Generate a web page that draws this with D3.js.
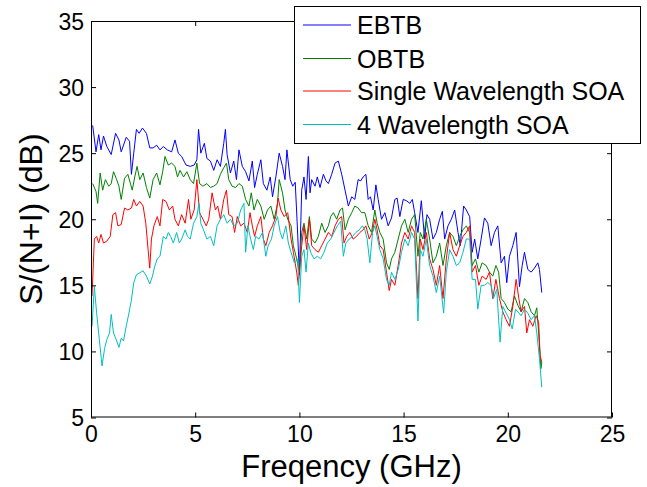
<!DOCTYPE html>
<html>
<head>
<meta charset="utf-8">
<script src="https://cdn.jsdelivr.net/npm/d3@7/dist/d3.min.js"></script>
<style>
  html, body { margin: 0; padding: 0; background: #fff; }
  svg { display: block; font-family: "Liberation Sans", Arial, sans-serif; }
</style>
</head>
<body>
<svg id="chart" width="647" height="487"></svg>
<script>
// ---- Data ----
const seriesNames = ["EBTB", "OBTB", "Single Wavelength SOA", "4 Wavelength SOA"];
const xTicks = [0, 5, 10, 15, 20, 25];
const yTicks = [5, 10, 15, 20, 25, 30, 35];

const ebtb = [
 [0.08,27.1],[0.24,25.1],[0.37,26.4],[0.48,25.25],[0.6,26.3],[0.76,25.5],[0.97,24.9],[1.18,26.5],[1.34,26],[1.45,25.1],
 [1.69,26.2],[1.85,25.9],[1.94,23.4],[2.05,25],[2.18,26.8],[2.31,26.5],[2.47,26.9],[2.66,26.5],[2.82,25.4],[2.98,25.4],
 [3.15,25.6],[3.31,25.25],[3.47,25.5],[3.66,25.25],[3.87,25.1],[4.03,26],[4.19,25],[4.35,24.75],[4.56,24.1],[4.76,24],
 [4.95,24.1],[5.08,24.5],[5.16,26.8],[5.27,25],[5.44,25.75],[5.56,24.6],[5.73,24.4],[5.89,23.7],[6.05,24.5],[6.21,24],
 [6.37,25.75],[6.45,26.8],[6.53,24.9],[6.69,23.5],[6.85,24.4],[6.98,23],[7.1,25.25],[7.26,24],[7.42,23.6],[7.58,22.9],
 [7.74,24.4],[7.85,22.4],[7.98,23.4],[8.15,24.5],[8.27,22.7],[8.44,22.2],[8.6,23.2],[8.71,21.7],[8.87,23.2],[9.03,25],
 [9.19,24],[9.31,23],[9.4,25.25],[9.56,23],[9.68,22.5],[9.8,22.8],[9.9,19.5],[10.0,15.8],[10.11,22.2],[10.22,23.2],
 [10.32,21.5],[10.43,24.75],[10.51,22],[10.59,23],[10.75,22.5],[10.86,23.2],[10.99,22.4],[11.15,23.4],[11.28,22.9],[11.39,22.7],
 [11.55,23.4],[11.71,24.25],[11.87,24.4],[12.03,23.4],[12.19,22.2],[12.35,21],[12.51,21.7],[12.66,21.5],[12.82,23],[12.94,22.9],
 [13.06,23.2],[13.19,23.4],[13.3,21.5],[13.41,21.7],[13.54,20.7],[13.67,22.6],[13.78,21.5],[13.94,20],[14.1,20.5],[14.26,19.5],
 [14.42,20.1],[14.58,21.5],[14.69,21.6],[14.82,20.2],[14.98,21.5],[15.14,21.4],[15.3,21.2],[15.42,21.5],[15.53,20.5],[15.69,19],
 [15.85,21.4],[16.01,18.5],[16.12,20.35],[16.25,20],[16.41,18.5],[16.57,19],[16.73,20],[16.86,20.6],[16.97,18.5],[17.13,19.5],
 [17.29,20],[17.45,20.7],[17.61,19],[17.72,18],[17.88,21],[18.01,20.7],[18.17,20.2],[18.29,17.5],[18.41,18.5],[18.56,17],
 [18.72,18.5],[18.88,20.1],[19.04,19.7],[19.2,18],[19.36,19],[19.52,19.5],[19.68,16.7],[19.84,17.2],[19.95,15.2],[20.08,17.2],
 [20.24,18],[20.4,19],[20.56,14.9],[20.69,16.5],[20.8,17.5],[20.96,16.2],[21.12,16],[21.28,16.3],[21.44,16.7],[21.52,16.2],[21.63,14.45]
];

const obtb = [
 [0.08,22.7],[0.24,22.1],[0.32,21.2],[0.44,23.5],[0.56,22.2],[0.69,23],[0.85,22.5],[0.97,22.7],[1.08,23.6],[1.21,23.1],
 [1.34,22.5],[1.45,21.5],[1.61,23.1],[1.77,23.4],[1.98,22.2],[2.1,23.2],[2.21,24],[2.34,23],[2.5,23.5],[2.66,22.4],
 [2.82,21.6],[2.98,23],[3.15,23.5],[3.31,22.6],[3.44,23.6],[3.55,24.75],[3.71,24.1],[3.87,24.25],[4.03,24],[4.15,23.2],
 [4.27,23.7],[4.44,23.2],[4.6,23.6],[4.76,23],[4.92,22.7],[5.08,24.25],[5.21,22.7],[5.37,22.5],[5.56,22.7],[5.73,22.4],
 [5.89,22.5],[6.05,22.7],[6.21,23.4],[6.37,23.9],[6.5,24.25],[6.61,23],[6.77,22.5],[6.94,22.4],[7.1,22.7],[7.26,22.5],
 [7.42,21.5],[7.58,21],[7.69,22],[7.82,20.7],[7.98,21.5],[8.15,21],[8.31,20],[8.47,20.7],[8.63,21],[8.79,20],
 [8.95,21.2],[9.03,23],[9.19,22],[9.31,20.7],[9.44,20],[9.6,19.5],[9.71,18],[9.87,17],[10.0,16],[10.11,19],
 [10.22,19.7],[10.35,18.5],[10.48,20.2],[10.59,18.5],[10.75,18.2],[10.91,18.7],[11.07,19.7],[11.23,19],[11.39,19.5],[11.5,20.2],
 [11.63,20.5],[11.79,20],[11.95,20.7],[12.07,20.85],[12.19,19.2],[12.35,20],[12.51,20.5],[12.66,21],[12.82,20.85],[12.98,20.5],
 [13.14,20.5],[13.3,19.5],[13.46,19],[13.62,20.7],[13.73,19.7],[13.86,19],[14.02,18.5],[14.18,16.7],[14.31,16.2],[14.42,17],
 [14.58,17.5],[14.74,18.5],[14.9,19.5],[15.06,20],[15.22,19],[15.38,20],[15.53,20.35],[15.69,17.2],[15.8,19],[15.93,18.5],
 [16.09,20],[16.25,18.5],[16.41,16.7],[16.57,17.2],[16.73,18.2],[16.89,16.5],[17.05,18],[17.21,19],[17.37,18.7],[17.53,18],
 [17.69,18.7],[17.85,19.2],[18.01,19.5],[18.17,19],[18.29,16.5],[18.45,17],[18.61,16],[18.77,16.7],[18.96,16.5],[19.12,16],
 [19.28,15.7],[19.43,16.5],[19.56,16],[19.68,14],[19.84,13.7],[20.0,13.2],[20.16,13],[20.32,14.2],[20.48,13.5],[20.64,13],
 [20.8,14],[20.96,13.7],[21.12,13],[21.28,12.7],[21.39,13.3],[21.48,11.4],[21.59,8.7],[21.63,9.2]
];

const singleSOA = [
 [0.05,14.2],[0.16,18.5],[0.27,18.7],[0.37,18.2],[0.48,18.85],[0.6,18.2],[0.76,18.35],[0.92,18.7],[1.05,20.35],[1.18,20.5],
 [1.29,19.5],[1.45,19.6],[1.61,20.85],[1.77,20.7],[1.94,20.85],[2.05,21.5],[2.18,21],[2.34,21.35],[2.5,21],[2.63,19.7],
 [2.74,17.7],[2.82,16.3],[2.9,18.5],[3.02,19.5],[3.18,20.2],[3.31,19.5],[3.44,21.5],[3.6,21.35],[3.76,20.7],[3.92,21],
 [4.03,20],[4.19,19.5],[4.35,20.35],[4.52,19.7],[4.68,21.5],[4.79,20],[4.95,20.7],[5.08,23],[5.21,20.5],[5.37,20],
 [5.53,19.5],[5.65,20],[5.81,22],[5.97,20.7],[6.08,21],[6.21,20],[6.37,21.5],[6.5,22.2],[6.61,20.35],[6.77,20.2],
 [6.89,19],[7.02,20.2],[7.18,19.5],[7.34,19.7],[7.5,19],[7.63,20.5],[7.74,19.5],[7.85,18.7],[7.98,19.5],[8.15,20.2],
 [8.27,18.5],[8.39,18],[8.55,19],[8.71,19.5],[8.87,20.2],[8.98,21.6],[9.11,20.7],[9.27,20.2],[9.44,20.5],[9.6,18.5],
 [9.71,17.5],[9.87,16],[9.95,15],[10.11,18],[10.22,19.5],[10.35,17.7],[10.48,20],[10.59,18],[10.75,17.7],[10.91,17.5],
 [11.07,18],[11.23,18.5],[11.39,19],[11.55,18.7],[11.71,19.5],[11.87,20],[12.03,20.2],[12.14,18.2],[12.27,18.7],[12.42,19],
 [12.58,18.5],[12.74,18.7],[12.9,19],[13.06,19.2],[13.19,19.5],[13.35,18.5],[13.5,19],[13.62,20],[13.73,19.2],[13.86,18],
 [14.02,17.7],[14.18,16],[14.31,14.6],[14.42,15.45],[14.58,15],[14.74,16.5],[14.9,18.2],[15.06,19],[15.22,18.5],[15.38,19.5],
 [15.53,19],[15.69,14],[15.8,18.5],[15.93,17.7],[16.09,19],[16.25,17],[16.41,16.2],[16.57,15],[16.73,16.5],[16.89,14],
 [17.05,17],[17.21,19],[17.37,17.7],[17.53,17.2],[17.69,18],[17.85,18.7],[18.01,19],[18.17,19.5],[18.29,16],[18.45,16.5],
 [18.61,15],[18.77,15.7],[18.96,15.45],[19.12,16],[19.28,14],[19.43,15.45],[19.6,14],[19.76,13],[19.92,12.4],[20.08,11.9],
 [20.24,13.4],[20.4,15.45],[20.53,14],[20.64,13],[20.8,13.4],[20.91,11.4],[21.04,12.4],[21.2,11.9],[21.36,12.7],[21.48,12.2],
 [21.55,9.7],[21.63,9.2]
];

const fourSOA = [
 [0.05,11.9],[0.16,14.9],[0.27,12.9],[0.4,10.9],[0.53,8.9],[0.65,10.2],[0.76,10.9],[0.89,11.4],[0.97,12.8],[1.08,11.4],
 [1.21,10.9],[1.34,10.3],[1.45,11],[1.56,10.8],[1.69,11.9],[1.82,12.9],[1.94,13.9],[2.05,15.2],[2.18,15.8],[2.34,15.95],
 [2.5,16.1],[2.66,15.7],[2.82,15.1],[2.95,15.7],[3.06,16.45],[3.18,17],[3.31,17.2],[3.47,18.7],[3.6,18.5],[3.71,19],
 [3.82,18.7],[3.95,18.2],[4.11,19],[4.24,18.2],[4.35,18.5],[4.52,19.2],[4.63,18.7],[4.76,18.5],[4.92,19.7],[5.08,20.2],
 [5.18,21.2],[5.27,19.7],[5.4,19.2],[5.56,18.5],[5.73,18.7],[5.89,18],[6.05,19.5],[6.21,20],[6.37,20.35],[6.53,19.7],
 [6.69,20],[6.85,19.5],[7.02,19.7],[7.18,20.7],[7.34,21.2],[7.42,17.5],[7.53,19.5],[7.66,18.5],[7.79,17.7],[7.9,18.7],
 [8.06,18.5],[8.23,19],[8.39,17.2],[8.5,18],[8.66,18.5],[8.79,19.5],[8.95,20.2],[9.08,19],[9.19,18.5],[9.35,19.5],
 [9.47,18.2],[9.6,17.5],[9.76,16.7],[9.92,17],[10.0,13.7],[10.11,17.2],[10.22,17.7],[10.32,16],[10.43,18.2],[10.54,17.5],
 [10.7,17],[10.86,17.2],[11.02,17],[11.18,17.5],[11.34,18.2],[11.5,18.5],[11.66,19],[11.82,19.5],[11.98,19.85],[12.11,17.2],
 [12.23,18.2],[12.39,18.5],[12.55,18.7],[12.71,19],[12.87,19.2],[13.03,19.5],[13.14,19.2],[13.25,18.5],[13.38,16.7],[13.51,19],
 [13.62,19.5],[13.73,18.7],[13.86,17.7],[14.02,17],[14.18,15.45],[14.31,15],[14.42,16],[14.58,15.45],[14.74,16.2],[14.9,17.5],
 [15.06,18.5],[15.22,18],[15.38,19],[15.53,18.5],[15.69,12.3],[15.8,17.7],[15.93,17.2],[16.09,18.5],[16.25,16.5],[16.41,15.7],
 [16.57,14.45],[16.73,15.7],[16.92,12.9],[17.05,16],[17.21,17.7],[17.37,17.2],[17.53,16.5],[17.69,16.7],[17.85,17.5],[18.01,18.5],
 [18.17,18.5],[18.29,15.45],[18.45,15.45],[18.56,13.2],[18.72,15],[18.88,15],[19.04,15.2],[19.2,15],[19.31,14],[19.47,14.7],
 [19.63,10.7],[19.76,13.4],[19.92,12.9],[20.08,12.4],[20.21,11.7],[20.37,13.2],[20.53,12.9],[20.64,12.7],[20.8,13.2],[20.96,12.9],
 [21.12,12.4],[21.28,12.7],[21.39,11.4],[21.52,9.45],[21.63,7.3]
];

const allSeries = [ebtb, obtb, singleSOA, fourSOA];
const colors = ["#0000ff", "#008000", "#ff0000", "#00bfbf"];

// ---- Layout ----
const L = 91, R = 612, T = 21, B = 417.5;
const svg = d3.select("#chart");
const x = d3.scaleLinear().domain([0, 25]).range([L, R]);
const y = d3.scaleLinear().domain([5, 35]).range([B, T]);

// plot background
svg.append("rect").attr("x", L).attr("y", T).attr("width", R - L).attr("height", B - T).attr("fill", "#fff");

// lines
const clipId = "plotclip";
svg.append("clipPath").attr("id", clipId).append("rect")
  .attr("x", L).attr("y", T).attr("width", R - L).attr("height", B - T);
const line = d3.line().x(d => x(d[0])).y(d => y(d[1]));
const gLines = svg.append("g").attr("clip-path", `url(#${clipId})`);
allSeries.forEach((s, i) => {
  gLines.append("path").datum(s)
    .attr("fill", "none").attr("stroke", colors[i]).attr("stroke-width", 1)
    .attr("stroke-linejoin", "round").attr("d", line);
});

// axes
const tickFont = 23;
const gx = svg.append("g").attr("transform", `translate(0,${B})`)
  .call(d3.axisBottom(x).tickValues(xTicks).tickSize(-5).tickPadding(8).tickFormat(d3.format("d")));
const gxTop = svg.append("g").attr("transform", `translate(0,${T})`)
  .call(d3.axisTop(x).tickValues(xTicks).tickSize(-5).tickFormat(""));
const gy = svg.append("g").attr("transform", `translate(${L},0)`)
  .call(d3.axisLeft(y).tickValues(yTicks).tickSize(-5).tickPadding(7).tickFormat(d3.format("d")));
const gyR = svg.append("g").attr("transform", `translate(${R},0)`)
  .call(d3.axisRight(y).tickValues(yTicks).tickSize(-5).tickFormat(""));
[gx, gxTop, gy, gyR].forEach(g => {
  g.select(".domain").remove();
  g.selectAll("line").attr("stroke", "#000");
  g.selectAll("text").attr("fill", "#000").style("font-size", tickFont + "px")
    .style("font-family", '"Liberation Sans", Arial, sans-serif');
});
gy.selectAll("text").attr("dy", "0.36em");

// frame
svg.append("rect").attr("x", L + 0.5).attr("y", T + 0.5)
  .attr("width", R - L - 1).attr("height", B - T - 1)
  .attr("fill", "none").attr("stroke", "#000").attr("stroke-width", 1);

// axis titles
svg.append("text").attr("x", (L + R) / 2).attr("y", 477)
  .attr("text-anchor", "middle").style("font-size", "31px").attr("fill", "#000")
  .text("Freqency (GHz)");
svg.append("text").attr("transform", `translate(42,${(T + B) / 2}) rotate(-90)`)
  .attr("text-anchor", "middle").style("font-size", "32px").attr("fill", "#000")
  .text("S/(N+I) (dB)");

// legend
const lg = svg.append("g");
lg.append("rect").attr("x", 294.5).attr("y", 6.5).attr("width", 346).attr("height", 137)
  .attr("fill", "#fff").attr("stroke", "#000").attr("stroke-width", 1);
const rowY = [25, 58.5, 91, 124.5];
seriesNames.forEach((name, i) => {
  lg.append("line").attr("x1", 303).attr("x2", 351).attr("y1", rowY[i]).attr("y2", rowY[i])
    .attr("stroke", colors[i]).attr("stroke-width", 1);
  lg.append("text").attr("x", 357).attr("y", rowY[i]).attr("dy", "0.36em")
    .style("font-size", "25px").attr("fill", "#000").text(name);
});
</script>
</body>
</html>
